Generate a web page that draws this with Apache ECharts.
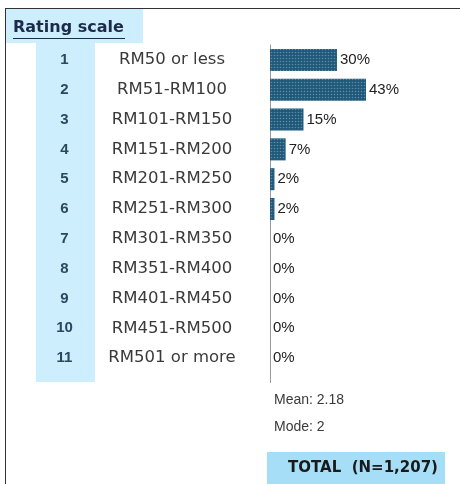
<!DOCTYPE html>
<html><head><meta charset="utf-8">
<script src="https://cdn.jsdelivr.net/npm/echarts@6/dist/echarts.min.js"></script>
<style>html,body{margin:0;padding:0;background:#fff}#c{width:460px;height:484px}</style>
</head><body><div id="c"></div>
<script>
const ratings = ['1','2','3','4','5','6','7','8','9','10','11'];
const ranges = ['RM50 or less','RM51-RM100','RM101-RM150','RM151-RM200','RM201-RM250','RM251-RM300','RM301-RM350','RM351-RM400','RM401-RM450','RM451-RM500','RM501 or more'];
const percents = [30,43,15,7,2,2,0,0,0,0,0];
const headerText = 'Rating scale';
const meanText = 'Mean: 2.18';
const modeText = 'Mode: 2';
const totalText = 'TOTAL  (N=1,207)';

const chart = echarts.init(document.getElementById('c'), null, {renderer:'canvas'});
const cats = ratings.map((r,i)=>r+'|'+ranges[i]);
chart.setOption({
  animation:false,
  backgroundColor:'#ffffff',
  grid:{left:270, top:45, width:178.6, height:328, containLabel:false},
  xAxis:{type:'value', min:0, max:80, show:false},
  yAxis:{type:'category', inverse:true, data:cats,
    axisLine:{show:true, lineStyle:{color:'#9a9a9a', width:1}},
    axisTick:{show:false},
    axisLabel:{margin:20, formatter:function(v){const p=v.split('|');return '{n|'+p[0]+'}{l|'+p[1]+'}';},
      rich:{
        n:{width:59, align:'center', fontFamily:'Liberation Sans', fontWeight:'bold', fontSize:15, color:'#2c4760'},
        l:{width:156, align:'center', fontFamily:'DejaVu Sans', fontSize:16.5, color:'#3a3a3a'}
      }}
  },
  series:[{type:'bar', data:percents, barWidth:22,
    itemStyle:{color:'#1f5878',
      decal:{symbol:'circle', symbolSize:0.55, color:'rgba(140,185,205,0.55)', dashArrayX:[3,0], dashArrayY:[3,0], rotation:0}},
    label:{show:true, position:'right', distance:3, formatter:'{c}%',
      fontFamily:'Liberation Sans', fontSize:15, color:'#222'}
  }],
  graphic:[
    {type:'rect', z:-10, shape:{x:5,y:9,width:138,height:34}, style:{fill:'#cdeefc'}},
    {type:'rect', z:-10, shape:{x:36,y:43,width:59,height:339}, style:{fill:'#cdeefc'}},
    {type:'line', shape:{x1:5,y1:8.5,x2:460,y2:8.5}, style:{stroke:'#333',lineWidth:1}},
    {type:'line', shape:{x1:5.5,y1:8,x2:5.5,y2:484}, style:{stroke:'#333',lineWidth:1}},
    {type:'line', shape:{x1:270.5,y1:373,x2:270.5,y2:383}, style:{stroke:'#9a9a9a',lineWidth:1}},
    {type:'text', left:13, top:20, style:{text:headerText, font:'bold 16px "DejaVu Sans"', fill:'#1c2b4a'}},
    {type:'line', shape:{x1:13,y1:38.5,x2:125,y2:38.5}, style:{stroke:'#1c2b4a',lineWidth:1.2}},
    {type:'text', left:274, top:393, style:{text:meanText, font:'14px "Liberation Sans"', fill:'#3a3a3a'}},
    {type:'text', left:274, top:420, style:{text:modeText, font:'14px "Liberation Sans"', fill:'#3a3a3a'}},
    {type:'rect', z:-10, shape:{x:267,y:452,width:178,height:32}, style:{fill:'#a6def8'}},
    {type:'text', x:363, y:468, style:{text:totalText, font:'bold 15px "DejaVu Sans"', fill:'#1a1a1a', align:'center', verticalAlign:'middle'}}
  ]
});
</script></body></html>
